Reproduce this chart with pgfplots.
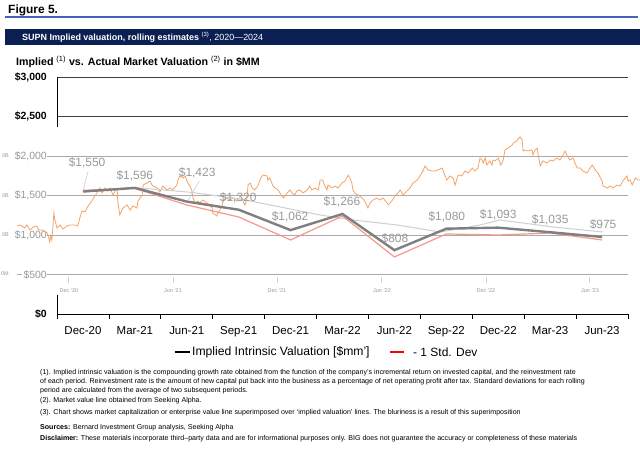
\documentclass[border=0pt]{standalone}
\usepackage{pgfplots}
\pgfplotsset{compat=1.18}
\usepackage{fontspec}
\setmainfont{Liberation Sans}
\definecolor{navy}{HTML}{0B1F52}
\definecolor{blueline}{HTML}{4563BD}
\definecolor{orangeline}{HTML}{F5A366}
\definecolor{salmon}{HTML}{F4998B}
\definecolor{implgray}{HTML}{7F7F7F}
\definecolor{ovgray}{HTML}{CFCFCF}
\definecolor{labelgray}{HTML}{999999}
\definecolor{gridgray}{HTML}{AAAAAA}
\definecolor{darkgrid}{HTML}{404040}
\newcommand{\fs}[1]{\fontsize{#1}{#1}\selectfont}
\begin{document}
\begin{tikzpicture}
\begin{scope}[x=1bp,y=1bp]
\path (0,0) rectangle (640,460);
\node[anchor=west, inner sep=0] at (8,450) {\fs{12}\bfseries Figure 5.};
\fill[blueline] (5,442.2) rectangle (638,443.9);
\fill[navy] (5,415) rectangle (640,431);
\node[anchor=west, inner sep=0, text=white] at (22,423) {\fs{9}\textbf{SUPN Implied valuation, rolling estimates} \textsuperscript{(3)}, 2020—2024};
\node[anchor=west, inner sep=0] at (16,398) {\fs{10.7}\textbf{Implied} \textsuperscript{(1)} \textbf{vs. Actual Market Valuation} \textsuperscript{(2)} \textbf{in \$MM}};
\end{scope}
% main axis
\begin{axis}[
 at={(57bp,146bp)}, anchor=south west, scale only axis, width=571bp, height=237bp,
 xmin=-0.5, xmax=10.5, ymin=0, ymax=3000,
 axis x line*=bottom, axis y line*=left,
 axis line style={black, line width=0.8bp},
 xtick={0,...,10},
 xticklabels={Dec-20,Mar-21,Jun-21,Sep-21,Dec-21,Mar-22,Jun-22,Sep-22,Dec-22,Mar-23,Jun-23},
 major tick length=0pt,
 minor xtick={-0.5,0.5,...,10.5},
 minor tick length=5bp, tick align=outside,
 minor tick style={black, line width=0.8bp},
 xticklabel style={font=\fs{11.5}, yshift=-9bp},
 ytick={0,2500,3000}, yticklabels={{\$0},{\$2,500},{\$3,000}},
 yticklabel style={font=\fs{10.5}\bfseries, anchor=east, inner sep=0pt, xshift=-10bp},
 ymajorgrids, grid style={darkgrid, line width=0.8bp},
]
\addplot[draw=none] coordinates {(0,0)};
\end{axis}
% overlay background
\fill[white] (0bp,165bp) rectangle (640bp,333bp);
\begin{axis}[
 at={(57bp,146bp)}, anchor=south west, scale only axis, width=571bp, height=237bp,
 xmin=-0.5, xmax=10.5, ymin=0, ymax=3000,
 axis line style={draw=none}, clip=false,
 xtick=\empty,
 ytick={500,1000,1500,2000}, yticklabels={{\$500},{\$1,000},{\$1,500},{\$2,000}},
 major tick length=0pt, tick style={draw=none},
 yticklabel style={font=\fs{10.5}, text=labelgray, anchor=east, inner sep=0pt, xshift=-10bp},
 ymajorgrids, grid style={gridgray, line width=0.8bp},
]
% market value (overlay)
\addplot[orangeline, line width=0.8bp] coordinates {
(-1.27,1114)(-1.21,1127)(-1.12,1089)(-1.08,1127)(-1.02,1063)(-0.96,1101)(-0.89,1114)(-0.85,1063)(-0.77,1063)(-0.69,1025)(-0.67,987)(-0.64,911)(-0.62,987)(-0.60,937)(-0.58,1089)(-0.56,1278)(-0.54,1190)(-0.50,1089)(-0.44,1127)(-0.39,1076)(-0.31,1114)(-0.25,1127)(-0.15,1127)(-0.10,1114)(-0.06,1215)(-0.02,1304)(0.04,1291)(0.10,1367)(0.17,1430)(0.23,1494)(0.27,1532)(0.29,1570)(0.33,1595)(0.37,1532)(0.42,1595)(0.48,1557)(0.52,1595)(0.58,1506)(0.62,1557)(0.66,1582)(0.67,1430)(0.71,1253)(0.77,1342)(0.85,1380)(0.91,1316)(0.96,1367)(1.04,1342)(1.06,1430)(1.14,1506)(1.16,1633)(1.23,1658)(1.29,1684)(1.33,1633)(1.35,1620)(1.43,1595)(1.48,1544)
(1.54,1620)(1.62,1570)(1.68,1595)(1.73,1570)(1.81,1633)(1.83,1696)(1.87,1747)(1.93,1722)(1.97,1747)(2.02,1658)(2.06,1620)(2.10,1557)(2.12,1468)(2.16,1405)(2.22,1430)(2.25,1405)(2.31,1443)(2.39,1405)(2.45,1367)(2.49,1342)(2.50,1278)(2.58,1241)(2.60,1278)(2.68,1367)(2.70,1443)(2.77,1468)(2.83,1443)(2.89,1468)(2.97,1430)(3.03,1443)(3.08,1430)(3.12,1380)(3.16,1468)(3.18,1633)(3.22,1658)(3.26,1595)(3.31,1570)(3.37,1620)(3.41,1696)(3.45,1747)(3.47,1759)(3.55,1747)(3.56,1696)(3.60,1722)(3.66,1620)(3.70,1595)(3.76,1570)(3.83,1494)(3.87,1468)(3.93,1532)(3.99,1570)(4.03,1532)(4.08,1506)(4.12,1557)(4.18,1570)(4.24,1532)(4.32,1570)(4.37,1620)(4.41,1570)(4.47,1595)(4.53,1570)
(4.57,1696)(4.62,1696)(4.66,1620)(4.70,1570)(4.72,1633)(4.80,1595)(4.86,1620)(4.91,1595)(4.99,1658)(5.05,1684)(5.11,1759)(5.14,1722)(5.18,1658)(5.20,1570)(5.24,1532)(5.30,1506)(5.38,1468)(5.43,1430)(5.49,1342)(5.53,1405)(5.59,1443)(5.66,1468)(5.72,1443)(5.78,1468)(5.86,1405)(5.88,1380)(5.95,1430)(6.01,1494)(6.07,1532)(6.11,1570)(6.17,1506)(6.24,1557)(6.30,1595)(6.36,1658)(6.44,1696)(6.49,1747)(6.55,1810)(6.59,1873)(6.65,1823)(6.72,1810)(6.78,1810)(6.84,1823)(6.92,1848)(6.97,1759)(7.01,1696)(7.07,1747)(7.13,1722)(7.17,1633)(7.21,1722)(7.23,1759)(7.30,1747)(7.36,1810)(7.42,1785)(7.50,1848)(7.55,1810)(7.61,1848)
(7.65,1975)(7.69,1949)(7.71,1911)(7.75,1975)(7.78,1886)(7.84,1937)(7.88,1886)(7.90,1949)(7.94,1937)(8.00,1975)(8.05,1886)(8.09,1937)(8.13,2076)(8.19,2101)(8.27,2139)(8.29,2165)(8.36,2190)(8.38,2215)(8.42,2241)(8.46,2203)(8.48,2063)(8.52,2076)(8.57,2063)(8.65,2076)(8.67,2013)(8.71,2076)(8.75,2101)(8.77,2013)(8.81,1873)(8.86,1937)(8.94,1911)(9.00,1949)(9.06,1937)(9.13,1975)(9.19,1949)(9.25,2013)(9.29,2063)(9.33,2000)(9.38,1949)(9.44,1975)(9.52,1848)(9.58,1848)(9.63,1810)(9.71,1785)(9.77,1848)(9.81,1886)(9.87,1823)(9.92,1785)(10.00,1684)(10.02,1620)(10.10,1595)(10.15,1620)(10.21,1595)(10.29,1633)(10.35,1620)(10.40,1684)(10.48,1747)(10.50,1684)(10.54,1696)(10.58,1633)(10.64,1722)(10.69,1696)(10.73,1696)
};
% superimposed implied line
\addplot[ovgray, line width=1bp] coordinates {
(0,1560)(1,1600)(2.02,1544)(3.0,1460)(4.57,1253)(5.2,1190)(6.05,1127)(6.88,1038)(7.65,1127)(8.03,1190)(9.06,1101)(10.02,1038)};
% -1 std dev
\addplot[salmon, line width=1.2bp] coordinates {
(0,1565)(1,1590)(2,1380)(3,1228)(4,937)(5,1240)(6,722)(7,1013)(8,1000)(9,1025)(10,937)};
% implied intrinsic valuation
\addplot[implgray, line width=2.4bp] coordinates {
(0,1550)(1,1596)(2,1423)(3,1320)(4,1062)(5,1266)(6,808)(7,1080)(8,1093)(9,1035)(10,975)};
\draw[ovgray, line width=0.6bp] (axis cs:0.1,1810) -- (axis cs:0,1560);
\draw[ovgray, line width=0.6bp] (axis cs:2.24,1684) -- (axis cs:2.02,1430);
\draw[gridgray, line width=0.8bp] (axis cs:-0.69,2000) -- (axis cs:-0.5,2000);
\draw[gridgray, line width=0.8bp] (axis cs:-0.69,1500) -- (axis cs:-0.5,1500);
\draw[gridgray, line width=0.8bp] (axis cs:-0.69,1000) -- (axis cs:-0.5,1000);
\draw[gridgray, line width=0.8bp] (axis cs:-0.69,500) -- (axis cs:-0.5,500);
\draw[gridgray, line width=0.8bp] (axis cs:-1.27,500) -- (axis cs:-1.17,500);
\begin{scope}[every node/.style={text=labelgray, font=\fs{12}, inner sep=0pt}]
\node at (axis cs:0.08,1911) {\$1,550};
\node at (axis cs:1.0,1747) {\$1,596};
\node at (axis cs:2.2,1785) {\$1,423};
\node at (axis cs:2.99,1468) {\$1,320};
\node at (axis cs:3.99,1228) {\$1,062};
\node at (axis cs:4.99,1418) {\$1,266};
\node at (axis cs:6.01,962) {\$808};
\node at (axis cs:7.01,1228) {\$1,080};
\node at (axis cs:8.0,1253) {\$1,093};
\node at (axis cs:9.0,1190) {\$1,035};
\node at (axis cs:10.02,1127) {\$975};
\end{scope}
\end{axis}
\begin{scope}[x=1bp,y=1bp]
\begin{scope}[every node/.style={text=labelgray, font=\fs{5.5}, inner sep=0pt}]
\node[anchor=east] at (9,304) {0B};
\node[anchor=east] at (9,264) {0B};
\node[anchor=east] at (9,225) {0B};
\node[anchor=east] at (9,186) {0M};
\node at (69,169) {Dec '20};
\node at (173,169) {Jun '21};
\node at (277,169) {Dec '21};
\node at (382,169) {Jun '22};
\node at (486,169) {Dec '22};
\node at (590,169) {Jun '23};
\end{scope}
\foreach \xx in {68,173,277,381,486,589} {\draw[ovgray, line width=0.6bp] (\xx,177) -- (\xx,183);}
% legend
\draw[black, line width=2.2bp] (175,108) -- (190,108);
\node[anchor=west, inner sep=0] at (192,108) {\fs{12.2}Implied Intrinsic Valuation [\$mm']};
\draw[red, line width=1.2bp] (390,108) -- (404,108);
\node[anchor=west, inner sep=0] at (413,108) {\fs{12}- 1 Std. Dev};
% footnotes
\begin{scope}[every node/.style={anchor=west, inner sep=0pt, font=\fs{7.1}}]
\node at (40,87) {(1). Implied intrinsic valuation is the compounding growth rate obtained from the function of the company's incremental return on invested capital, and the reinvestment rate};
\node at (40,78) {of each period. Reinvestment rate is the amount of new capital put back into the business as a percentage of net operating profit after tax. Standard deviations for each rolling};
\node at (40,69) {period are calculated from the average of two subsequent periods.};
\node at (40,59) {(2). Market value line obtained from Seeking Alpha.};
\node at (40,47) {(3). Chart shows market capitalization or enterprise value line superimposed over `implied valuation' lines. The bluriness is a result of this superimposition};
\node at (40,32) {\textbf{Sources:} Bernard Investment Group analysis, Seeking Alpha};
\node at (40,21) {\textbf{Disclaimer:} These materials incorporate third–party data and are for informational purposes only. BIG does not guarantee the accuracy or completeness of these materials};
\end{scope}
\end{scope}
\pgfresetboundingbox
\path[use as bounding box] (0bp,0bp) rectangle (640bp,460bp);
\end{tikzpicture}
\end{document}
